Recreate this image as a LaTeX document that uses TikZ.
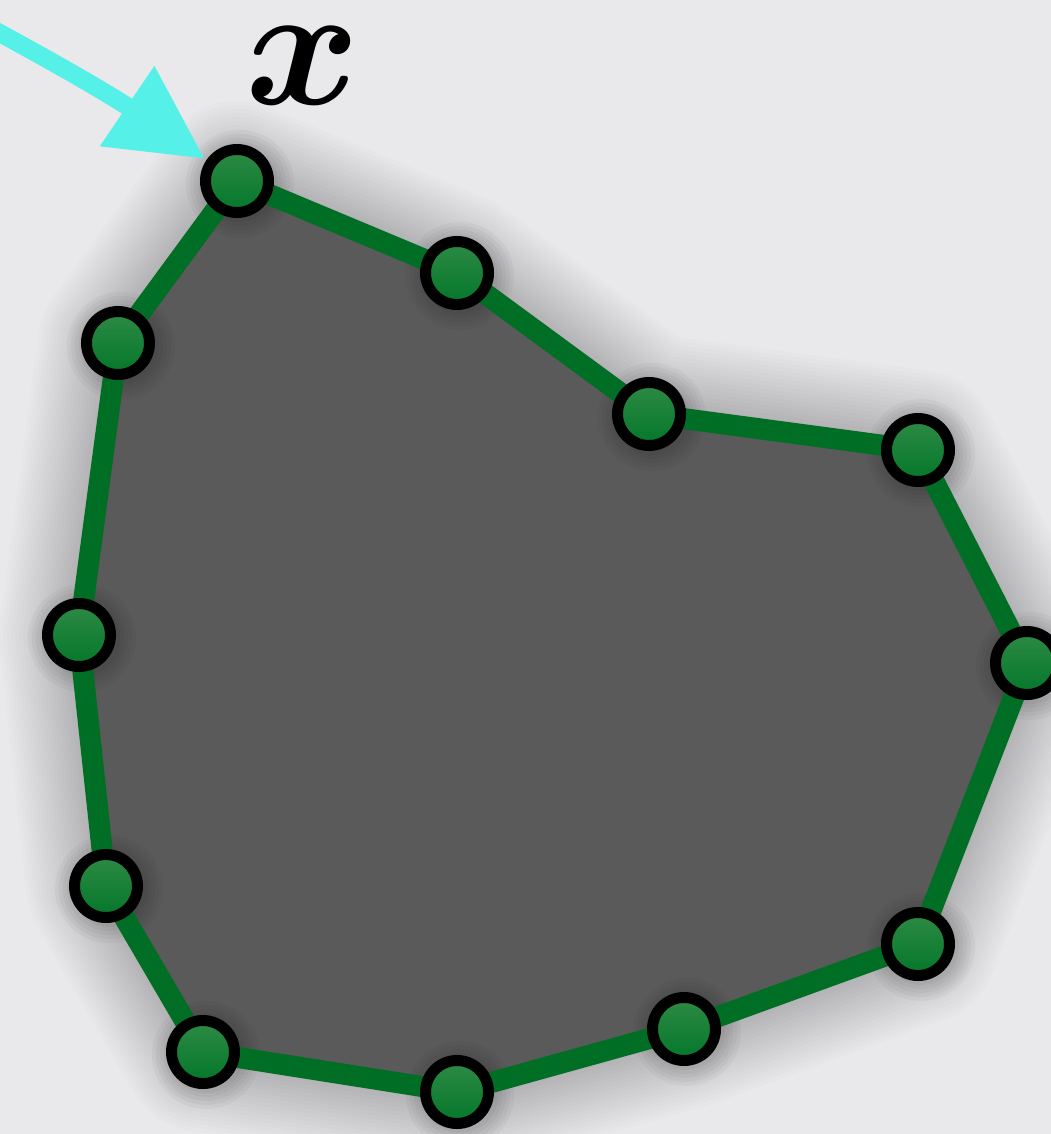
\documentclass[tikz,border=0pt]{standalone}
\usepackage{amsmath,bm}
\usetikzlibrary{arrows.meta}
\definecolor{bg}{HTML}{E9E8EB}
\definecolor{polyfill}{HTML}{5A5A5A}
\definecolor{edgegreen}{HTML}{006E24}
\definecolor{nodetop}{HTML}{2E8A45}
\definecolor{nodebot}{HTML}{03772A}
\definecolor{arrowcyan}{HTML}{55F0E8}
\tikzset{
  vertex/.style={circle, draw=black, line width=11pt, minimum size=63pt, inner sep=0pt,
    top color=nodetop, bottom color=nodebot},
  edge/.style={draw=edgegreen, line width=21pt, line join=round},
  shadowlayer/.style={black, opacity=0.011, line join=round},
  pointer/.style={draw=arrowcyan, line width=18pt, -{Triangle[length=94pt,width=92pt]}, shorten >=2pt},
}
\begin{document}
\begin{tikzpicture}[x=1pt,y=-1pt]
\useasboundingbox (0,0) rectangle (1051,1134);
\fill[bg] (0,0) rectangle (1051,1134);
\coordinate (p1) at (237,181);
\coordinate (p2) at (457,273);
\coordinate (p3) at (649,414);
\coordinate (p4) at (918,450);
\coordinate (p5) at (1027,663);
\coordinate (p6) at (918,944);
\coordinate (p7) at (684,1029);
\coordinate (p8) at (457,1092);
\coordinate (p9) at (203,1052);
\coordinate (p10) at (106,886);
\coordinate (p11) at (79,635);
\coordinate (p12) at (118,343);
% soft shadow of the polygon
\foreach \w in {8,16,...,160}{
  \draw[shadowlayer, line width=\w pt, xshift=3pt, yshift=-3pt]
    (p1) -- (p2) -- (p3) -- (p4) -- (p5) -- (p6) -- (p7) -- (p8) -- (p9) -- (p10) -- (p11) -- (p12) -- cycle;
}
% polygon fill
\fill[polyfill] (p1) -- (p2) -- (p3) -- (p4) -- (p5) -- (p6) -- (p7) -- (p8) -- (p9) -- (p10) -- (p11) -- (p12) -- cycle;
% node shadows
\foreach \i in {1,...,12}{
  \foreach \r in {54,50,...,38}{
    \fill[black, opacity=0.03] ([xshift=3pt,yshift=-3pt]p\i) circle (\r pt);
  }
}
% edges
\foreach \a/\b in {1/2,2/3,3/4,4/5,5/6,6/7,7/8,8/9,9/10,10/11,11/12,12/1}{
  \draw[edge, line cap=round] (p\a) -- (p\b);
}
% vertices
\foreach \i in {1,...,12}{
  \node[vertex] (n\i) at (p\i) {};
}
% arrow and label
\coordinate (astart) at (-30,17);
\draw[pointer] (astart) to[bend left=3] (n1);
\node[font=\Huge, scale=7.0, inner sep=0pt] (lbl) at (303,66) {$\boldsymbol{x}$};
\end{tikzpicture}
\end{document}
